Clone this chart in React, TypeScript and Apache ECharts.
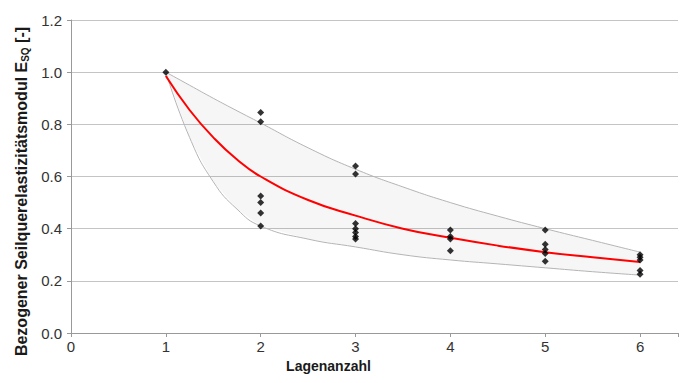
import React, { useEffect, useRef } from "react";
import * as echarts from "echarts";

const layers = [1, 2, 3, 4, 5, 6];
const measured: number[][] = [
  [1.0],
  [0.845, 0.81, 0.525, 0.5, 0.46, 0.41],
  [0.64, 0.61, 0.42, 0.4, 0.385, 0.37, 0.36],
  [0.395, 0.37, 0.36, 0.315],
  [0.395, 0.34, 0.32, 0.305, 0.275],
  [0.3, 0.29, 0.28, 0.24, 0.225],
];

const curveX = [1, 1.25, 1.5, 1.75, 2, 2.5, 3, 3.5, 4, 4.5, 5, 5.5, 6];
const fitY = [0.985, 0.855, 0.75, 0.665, 0.6, 0.51, 0.45, 0.4, 0.365, 0.335, 0.31, 0.29, 0.272];
const upperY = [1.0, 0.95, 0.9, 0.852, 0.805, 0.71, 0.628, 0.56, 0.5, 0.448, 0.4, 0.355, 0.31];
const lowerY = [1.0, 0.75, 0.58, 0.475, 0.41, 0.36, 0.33, 0.3, 0.28, 0.265, 0.25, 0.235, 0.222];

const yTicks = [0, 0.2, 0.4, 0.6, 0.8, 1.0, 1.2];

export default function App() {
  const ref = useRef<HTMLDivElement>(null);
  useEffect(() => {
    if (!ref.current) return;
    const chart = echarts.init(ref.current, undefined, { renderer: "svg" });
    const scatterData: number[][] = [];
    layers.forEach((l, i) => measured[i].forEach((v) => scatterData.push([l, v])));
    const bandPts: number[][] = [
      ...curveX.map((x, i) => [x, upperY[i]]),
      ...curveX.map((x, i) => [x, lowerY[i]]).reverse(),
    ];
    const font = "Liberation Sans, Arial, sans-serif";
    chart.setOption({
      animation: false,
      textStyle: { fontFamily: font },
      grid: { left: 71, right: 0, top: 20, bottom: 50, containLabel: false },
      xAxis: {
        type: "value",
        min: 0,
        max: 6.4,
        interval: 1,
        name: "Lagenanzahl",
        nameLocation: "middle",
        nameGap: 25,
        nameTextStyle: { fontSize: 14, fontWeight: "bold", color: "#1a1a1a", padding: [0, 92, 0, 0] },
        axisLine: { show: true, lineStyle: { color: "#999", width: 1 } },
        axisTick: { show: true, length: 4, lineStyle: { color: "#999" } },
        axisLabel: {
          fontSize: 15,
          color: "#333",
          margin: 6,
          formatter: (v: number) => (Number.isInteger(v) ? String(v) : ""),
        },
        splitLine: { show: false },
      },
      yAxis: {
        type: "value",
        min: 0,
        max: 1.2,
        interval: 0.2,
        name: "{a|Bezogener Seilquerelastizitätsmodul E}{s|SQ}{a| [-]}",
        nameLocation: "middle",
        nameGap: 41,
        nameTextStyle: {
          padding: [0, 30, 0, 0],
          rich: {
            a: { fontSize: 16, fontWeight: "bold", color: "#1a1a1a", fontFamily: font, lineHeight: 18 },
            s: { fontSize: 10, fontWeight: "bold", color: "#1a1a1a", fontFamily: font, lineHeight: 18, verticalAlign: "bottom", padding: [7, 0, 0, 0] },
          },
        },
        axisLine: { show: true, lineStyle: { color: "#999", width: 1 } },
        axisTick: { show: true, length: 4, lineStyle: { color: "#999" } },
        axisLabel: {
          fontSize: 15,
          color: "#333",
          margin: 9,
          formatter: (v: number) => {
            const t = yTicks.find((k) => Math.abs(k - v) < 1e-6);
            return t === undefined ? "" : t.toFixed(1);
          },
        },
        splitLine: { show: true, lineStyle: { color: "#c4c4c4", width: 1 } },
      },
      series: [
        {
          type: "custom",
          coordinateSystem: "cartesian2d",
          silent: true,
          z: 1,
          data: [[1, 1]],
          renderItem: (_p: any, api: any) => ({
            type: "polygon",
            shape: { points: bandPts.map((p) => api.coord(p)) },
            style: { fill: "rgba(0,0,0,0.035)", stroke: "none" },
          }),
        },
        {
          type: "line",
          data: curveX.map((x, i) => [x, upperY[i]]),
          smooth: true,
          symbol: "none",
          z: 2,
          lineStyle: { color: "#b4b4b4", width: 1 },
        },
        {
          type: "line",
          data: curveX.map((x, i) => [x, lowerY[i]]),
          smooth: true,
          symbol: "none",
          z: 2,
          lineStyle: { color: "#b4b4b4", width: 1 },
        },
        {
          type: "line",
          data: curveX.map((x, i) => [x, fitY[i]]),
          smooth: true,
          symbol: "none",
          z: 3,
          lineStyle: { color: "#ff0000", width: 2 },
        },
        {
          type: "scatter",
          data: scatterData,
          symbol: "diamond",
          symbolSize: 7,
          z: 4,
          itemStyle: { color: "#000" },
        },
      ],
    });
    return () => chart.dispose();
  }, []);
  return <div ref={ref} style={{ width: 681, height: 383, position: "absolute", left: 0, top: 0, background: "#fff" }} />;
}
